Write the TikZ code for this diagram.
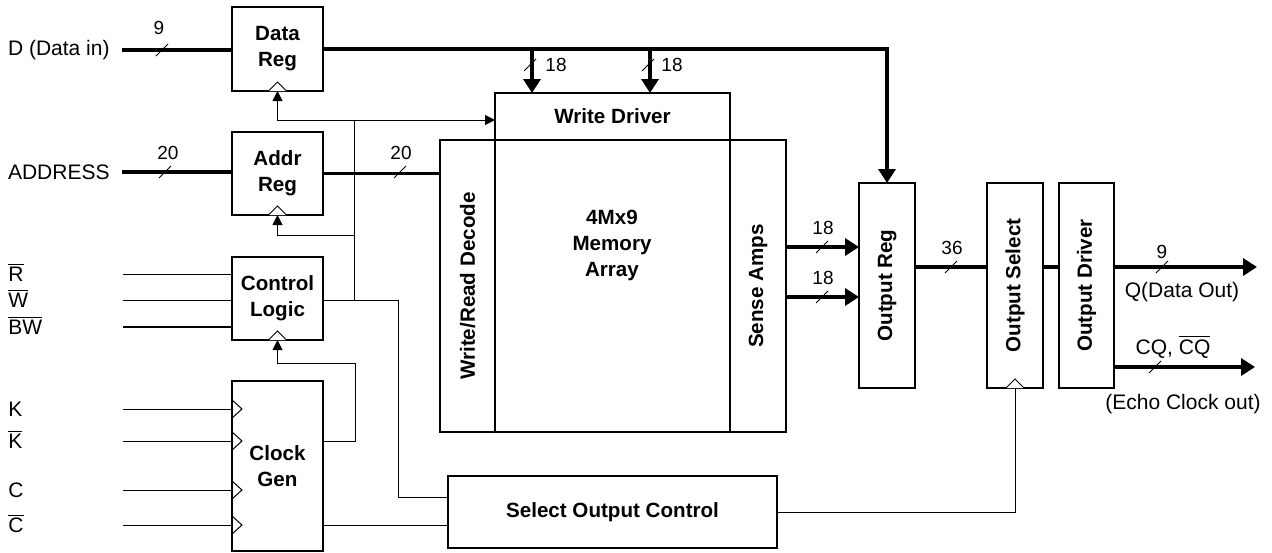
\documentclass[tikz,border=0pt]{standalone}
\usepackage{graphicx}
\usepackage{fontspec}
\setmainfont{Liberation Sans}
\usetikzlibrary{arrows.meta,positioning,calc}

\tikzset{
  blk/.style={draw,line width=1.2pt,fill=white,inner sep=0pt,outer sep=0pt,align=center,
    font=\bfseries\fontsize{10.3}{13}\selectfont},
  wire/.style={line width=0.5pt},
  bus/.style={line width=1.8pt},
  wirearr/.style={wire,-{Triangle[length=5pt,width=5pt]}},
  busarr/.style={bus,-{Triangle[length=7pt,width=8.5pt]}},
  sig/.style={inner sep=0pt,font=\fontsize{10.5}{12.6}\selectfont},
  num/.style={inner sep=0pt,font=\fontsize{9.5}{11.4}\selectfont},
}
\newcommand{\ovl}[1]{$\overline{\hbox{#1}}$}
% width slash on a bus
\newcommand{\busmark}[1]{\draw[wire] ($(#1)+(-6,6)$) -- ($(#1)+(6,-6)$);}
% clock triangles
\newcommand{\clkup}[1]{\draw[wire,fill=white] ($(#1)+(-9,0)$) -- ($(#1)+(0,-9)$) -- ($(#1)+(9,0)$);}
\newcommand{\clkin}[1]{\draw[wire] ($(#1)+(0,-9)$) -- ($(#1)+(10,0)$) -- ($(#1)+(0,9)$);}

\begin{document}
\begin{tikzpicture}[x=0.5pt,y=-0.5pt]
  \useasboundingbox (0,0) rectangle (1272,552);

  % blocks
  \node[blk,minimum width=45.5pt,minimum height=42pt] (dreg) at (277.5,49) {Data\\Reg};
  \node[blk,minimum width=45.5pt,minimum height=41.5pt] (areg) at (277.5,173.5) {Addr\\Reg};
  \node[blk,minimum width=45.5pt,minimum height=41.5pt] (ctrl) at (277.5,298.5) {Control\\Logic};
  \node[blk,minimum width=45.5pt,minimum height=85pt] (clkgen) at (277.5,466) {Clock\\Gen};
  \node[blk,minimum width=117.5pt,minimum height=23.5pt] (wdrv) at (612.5,116.5) {Write Driver};
  \node[blk,minimum width=27.5pt,minimum height=146pt] (dec) at (467.5,286) {\rotatebox{90}{Write/Read Decode}};
  \node[blk,minimum width=117.5pt,minimum height=146pt] (mem) at (612.5,286) {};
  \node[blk,draw=none,fill=none] (memtxt) at (612,245) {4Mx9\\Memory\\Array};
  \node[blk,minimum width=28pt,minimum height=146pt] (amps) at (758,286) {\rotatebox{90}{Sense Amps}};
  \node[blk,minimum width=28pt,minimum height=102.5pt] (oreg) at (887,285.5) {\rotatebox{90}{Output Reg}};
  \node[blk,minimum width=28pt,minimum height=102.5pt] (osel) at (1015,285.5) {\rotatebox{90}{Output Select}};
  \node[blk,minimum width=27.5pt,minimum height=102.5pt] (odrv) at (1086.5,285.5) {\rotatebox{90}{Output Driver}};
  \node[blk,minimum width=164.5pt,minimum height=36pt] (soc) at (612.5,512) {Select Output Control};

  % data and address in
  \node[sig,anchor=east,inner xsep=6pt] (din) at (122,50) {D (Data in)};
  \node[sig,anchor=east,inner xsep=6pt] (addr) at (122,172) {ADDRESS};
  \draw[bus] (din.east) -- (din.east -| dreg.west);
  \draw[bus] (addr.east) -- (addr.east -| areg.west);
  \busmark{162,50} \node[num] (n9) at (159,28) {9};
  \busmark{165,172} \node[num] (n20a) at (168,153) {20};

  % data reg to output reg and write driver
  \coordinate (tap1) at (532,49);
  \coordinate (tap2) at (650,49);
  \draw[busarr] (dreg.east) -| (oreg.north);
  \draw[busarr] (tap1) -- (tap1 |- wdrv.north);
  \draw[busarr] (tap2) -- (tap2 |- wdrv.north);
  \busmark{530,65} \node[num] (n18a) at (556,65) {18};
  \busmark{648,65} \node[num] (n18b) at (672,65) {18};

  % address to decode
  \draw[bus] (areg.east) -- (areg.east -| dec.west);
  \busmark{400,172} \node[num] (n20b) at (401,153) {20};

  % control logic inputs
  \foreach \yy/\txt/\lw in {274/R/0.5pt, 300/W/0.5pt, 327/BW/1pt}{
    \node[sig,anchor=base west] (lbl\txt) at (8,\yy+7.5) {\ovl{\txt}};
    \coordinate (in\txt) at (123,\yy);
    \draw[line width=\lw] (in\txt) -- (in\txt -| ctrl.west);
  }

  % clock inputs
  \foreach \yy/\nm/\txt in {409/k/K, 441/kb/{\ovl{K}}, 490/c/C, 525/cb/{\ovl{C}}}{
    \node[sig,anchor=base west] (lbl\nm) at (8,\yy+7.5) {\txt};
    \coordinate (in\nm) at (123,\yy);
    \draw[wire] (in\nm) -- (in\nm -| clkgen.west);
    \clkin{in\nm -| clkgen.west}
  }

  % internal clock distribution
  \coordinate (cj) at (354,300);
  \coordinate (ck) at (354,120);
  \coordinate (ca) at (354,235);
  \draw[wire] (ctrl.east |- cj) -- (cj) -- (ck);
  \draw[wirearr] (ck) -| (dreg.south);
  \draw[wirearr] (ck) -- (ck -| wdrv.west);
  \draw[wirearr] (ca) -| (areg.south);
  \draw[wirearr] ($(clkgen.east)+(0,-25)$) -- ++(32,0) -- ++(0,-78) -| (ctrl.south);
  \clkup{dreg.south}
  \clkup{areg.south}
  \clkup{ctrl.south}

  % select output control
  \draw[wire] (cj) -- ++(44,0) |- ($(soc.west)+(0,-15)$);
  \draw[wire] ($(clkgen.east)+(0,59)$) -- ($(soc.west)+(0,13)$);
  \draw[wire] (soc.east) -| (osel.south);
  \clkup{osel.south}

  % sense amps to output reg
  \coordinate (sa1) at ($(amps.east)+(0,-39)$);
  \coordinate (sa2) at ($(amps.east)+(0,11)$);
  \draw[busarr] (sa1) -- (sa1 -| oreg.west);
  \draw[busarr] (sa2) -- (sa2 -| oreg.west);
  \busmark{822,247} \node[num] (n18c) at (823,228) {18};
  \busmark{822,297} \node[num] (n18d) at (823,278) {18};

  % output path
  \coordinate (o36) at (oreg.east |- 0,267);
  \coordinate (qout) at (1257,267);
  \coordinate (cqout) at (1255,367);
  \draw[bus] (o36) -- (o36 -| osel.west);
  \draw[bus] (o36 -| osel.east) -- (o36 -| odrv.west);
  \draw[busarr] (o36 -| odrv.east) -- (qout);
  \draw[busarr] (cqout -| odrv.east) -- (cqout);
  \busmark{951,267} \node[num] (n36) at (952,248) {36};
  \busmark{1162,267} \node[num] (n9q) at (1162,252) {9};
  \busmark{1155,367}
  \node[sig] (lblq) at (1182,292) {Q(Data Out)};
  \node[sig] (lblcq) at (1173,347) {CQ, \ovl{CQ}};
  \node[sig] (lblecho) at (1183,404) {(Echo Clock out)};
\end{tikzpicture}
\end{document}
